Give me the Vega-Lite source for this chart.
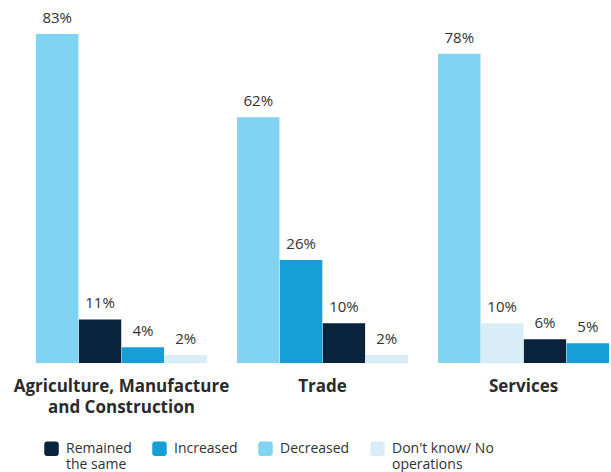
{
  "$schema": "https://vega.github.io/schema/vega-lite/v6.json",
  "width": 573,
  "height": 329,
  "autosize": {"type": "none"},
  "padding": {"left": 36, "top": 34, "right": 2, "bottom": 109},
  "background": "white",
  "config": {"view": {"stroke": null}, "font": "Open Sans"},
  "data": {
    "values": [
      {"sector": "Agriculture, Manufacture and Construction", "response": "Remained the same", "value": 0.11},
      {"sector": "Agriculture, Manufacture and Construction", "response": "Increased", "value": 0.04},
      {"sector": "Agriculture, Manufacture and Construction", "response": "Decreased", "value": 0.83},
      {"sector": "Agriculture, Manufacture and Construction", "response": "Don't know/ No operations", "value": 0.02},
      {"sector": "Trade", "response": "Remained the same", "value": 0.10},
      {"sector": "Trade", "response": "Increased", "value": 0.26},
      {"sector": "Trade", "response": "Decreased", "value": 0.62},
      {"sector": "Trade", "response": "Don't know/ No operations", "value": 0.02},
      {"sector": "Services", "response": "Remained the same", "value": 0.06},
      {"sector": "Services", "response": "Increased", "value": 0.05},
      {"sector": "Services", "response": "Decreased", "value": 0.78},
      {"sector": "Services", "response": "Don't know/ No operations", "value": 0.10}
    ]
  },
  "transform": [
    {"window": [{"op": "row_number", "as": "rank"}], "groupby": ["sector"], "sort": [{"field": "value", "order": "descending"}]}
  ],
  "encoding": {
    "x": {
      "field": "sector", "type": "nominal", "sort": null,
      "scale": {"paddingInner": 0.15, "paddingOuter": 0},
      "axis": {
        "title": null, "domain": false, "ticks": false, "labelAngle": 0,
        "labelPadding": 15, "labelFontSize": 17, "labelFontWeight": "bold", "labelColor": "#2b2b2b",
        "labelLineHeight": 21, "labelLimit": 300,
        "labelExpr": "datum.value == 'Agriculture, Manufacture and Construction' ? ['Agriculture, Manufacture', 'and Construction'] : datum.value"
      }
    },
    "xOffset": {"field": "rank", "type": "ordinal", "scale": {"paddingInner": 0.01}},
    "y": {"field": "value", "type": "quantitative", "scale": {"domain": [0, 0.83], "nice": false}, "axis": null}
  },
  "layer": [
    {
      "mark": {"type": "bar"},
      "encoding": {
        "color": {
          "field": "response", "type": "nominal",
          "scale": {
            "domain": ["Remained the same", "Increased", "Decreased", "Don't know/ No operations"],
            "range": ["#08233b", "#159fd6", "#80d3f1", "#d8edf8"]
          },
          "legend": {
            "title": null, "orient": "none", "direction": "horizontal",
            "legendX": 8, "legendY": 407,
            "symbolType": "M-1,-0.6 Q-1,-1 -0.6,-1 L0.6,-1 Q1,-1 1,-0.6 L1,0.6 Q1,1 0.6,1 L-0.6,1 Q-1,1 -1,0.6 Z",
            "symbolSize": 210, "symbolStrokeWidth": 0, "symbolOpacity": 1,
            "labelFontSize": 14, "labelColor": "#333333", "labelLineHeight": 19,
            "labelOffset": 7, "columnPadding": 20, "labelBaseline": "middle",
            "labelExpr": "datum.value == 'Remained the same' ? ['Remained', 'the same'] : datum.value == \"Don't know/ No operations\" ? [\"Don't know/ No\", 'operations'] : [datum.value, ' ']"
          }
        }
      }
    },
    {
      "mark": {"type": "text", "baseline": "bottom", "dy": -8, "fontSize": 15, "color": "#333333"},
      "encoding": {
        "text": {"field": "value", "type": "quantitative", "format": ".0%"}
      }
    }
  ]
}
